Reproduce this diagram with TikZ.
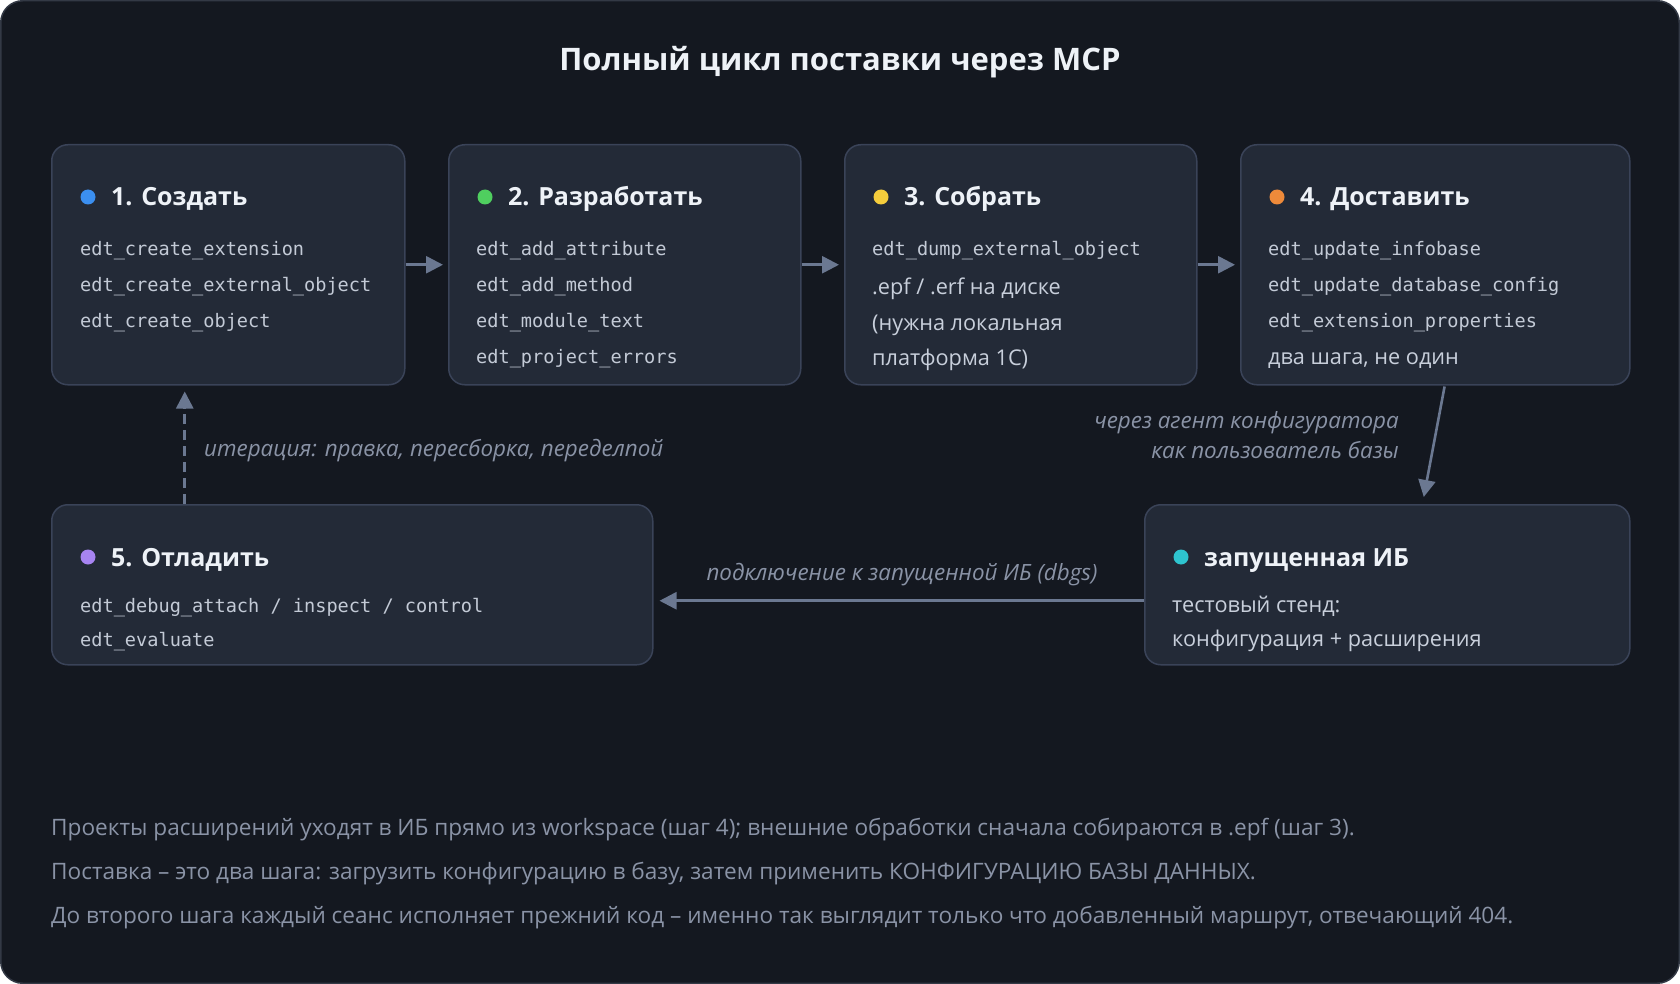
\documentclass[tikz,border=0pt]{standalone}
\usepackage{fontspec}
\setmainfont{Open Sans}
\newfontfamily\codefnt{DejaVu Sans Mono}
\usetikzlibrary{arrows.meta,calc}
\definecolor{bgc}{HTML}{141820}
\definecolor{outerline}{HTML}{333945}
\definecolor{boxfill}{HTML}{232A37}
\definecolor{boxline}{HTML}{3A4358}
\definecolor{titlec}{HTML}{EEF2F7}
\definecolor{codec}{HTML}{C3CAD6}
\definecolor{bodyc}{HTML}{C8CFDB}
\definecolor{grayc}{HTML}{8A93A6}
\definecolor{arrowc}{HTML}{6B7891}
\definecolor{dblue}{HTML}{3B8FF0}
\definecolor{dgreen}{HTML}{4FCF5F}
\definecolor{dyellow}{HTML}{F5CD3C}
\definecolor{dorange}{HTML}{EE8A3A}
\definecolor{dpurple}{HTML}{A784F2}
\definecolor{dcyan}{HTML}{2EC4CF}
\tikzset{
  stepbox/.style={draw=boxline, fill=boxfill, rounded corners=16pt, line width=1.5pt, inner sep=0pt, anchor=north west},
  headtxt/.style={anchor=base west, inner sep=0pt, text=titlec, font=\fontsize{25}{30}\selectfont\bfseries},
  codetxt/.style={anchor=base west, inner sep=0pt, text=codec, font=\codefnt\fontsize{18.6}{22}\selectfont},
  bodytxt/.style={anchor=base west, inner sep=0pt, text=bodyc, font=\fontsize{21.7}{26}\selectfont},
  labtxt/.style={inner sep=0pt, text=grayc, font=\fontsize{22.4}{26}\selectfont\itshape},
  foottxt/.style={anchor=base west, inner sep=0pt, text=grayc, font=\fontsize{22.6}{26}\selectfont},
  dotmark/.style={circle, inner sep=0pt, minimum size=15pt},
  flow/.style={draw=arrowc, line width=2.6pt, -{Triangle[length=17pt,width=17pt]}},
  flowd/.style={flow, dash pattern=on 10pt off 6pt},
}
\begin{document}
\begin{tikzpicture}[x=1pt,y=-1pt]
\fill[white] (0,0) rectangle (1680,984);
\useasboundingbox (0,0) rectangle (1680,984);
\draw[fill=bgc, draw=outerline, line width=1.5pt, rounded corners=22pt] (0.75,0.75) rectangle (1679.25,983.25);

\node[anchor=base, inner sep=0pt, text=titlec, font=\fontsize{31}{36}\selectfont\bfseries] (title) at (840,71) {Полный цикл поставки через MCP};

% boxes
\node[stepbox, minimum width=353pt, minimum height=240pt] (b1) at (51,144) {};
\node[stepbox, minimum width=352pt, minimum height=240pt] (b2) at (448,144) {};
\node[stepbox, minimum width=352pt, minimum height=240pt] (b3) at (844,144) {};
\node[stepbox, minimum width=389pt, minimum height=240pt] (b4) at (1240,144) {};
\node[stepbox, minimum width=601pt, minimum height=160pt] (b5) at (51,504) {};
\node[stepbox, minimum width=485pt, minimum height=160pt] (ib) at (1144,504) {};

% box 1
\node[dotmark, fill=dblue] (d1) at (88,197) {};
\node[headtxt] (h1) at (111,206) {1. Создать};
\node[codetxt] (c11) at (80,255) {edt\_create\_extension};
\node[codetxt] (c12) at (80,291) {edt\_create\_external\_object};
\node[codetxt] (c13) at (80,327) {edt\_create\_object};

% box 2
\node[dotmark, fill=dgreen] (d2) at (485,197) {};
\node[headtxt] (h2) at (508,206) {2. Разработать};
\node[codetxt] (c21) at (476,255) {edt\_add\_attribute};
\node[codetxt] (c22) at (476,291) {edt\_add\_method};
\node[codetxt] (c23) at (476,327) {edt\_module\_text};
\node[codetxt] (c24) at (476,363) {edt\_project\_errors};

% box 3
\node[dotmark, fill=dyellow] (d3) at (881,197) {};
\node[headtxt] (h3) at (904,206) {3. Собрать};
\node[codetxt] (c31) at (872,255) {edt\_dump\_external\_object};
\node[bodytxt] (t31) at (872,294) {.epf / .erf на диске};
\node[bodytxt] (t32) at (872,330) {(нужна локальная};
\node[bodytxt] (t33) at (872,365) {платформа 1С)};

% box 4
\node[dotmark, fill=dorange] (d4) at (1277,197) {};
\node[headtxt] (h4) at (1300,206) {4. Доставить};
\node[codetxt] (c41) at (1268,255) {edt\_update\_infobase};
\node[codetxt] (c42) at (1268,291) {edt\_update\_database\_config};
\node[codetxt] (c43) at (1268,327) {edt\_extension\_properties};
\node[bodytxt] (t41) at (1268,364) {два шага, не один};

% box 5
\node[dotmark, fill=dpurple] (d5) at (88,557) {};
\node[headtxt] (h5) at (111,566) {5. Отладить};
\node[codetxt] (c51) at (80,612) {edt\_debug\_attach / inspect / control};
\node[codetxt] (c52) at (80,646) {edt\_evaluate};

% infobase box
\node[dotmark, fill=dcyan] (d6) at (1181,557) {};
\node[headtxt] (h6) at (1204,566) {запущенная ИБ};
\node[bodytxt] (t61) at (1172,612) {тестовый стенд:};
\node[bodytxt] (t62) at (1172,646) {конфигурация + расширения};

% connectors
\draw[flow, shorten >=5pt] (b1.east) -- (b2.west);
\draw[flow, shorten >=5pt] (b2.east) -- (b3.west);
\draw[flow, shorten >=5pt] (b3.east) -- (b4.west);
\draw[flow, shorten <=1pt] ([xshift=9.5pt]b4.south) -- ([xshift=36.5pt,yshift=7pt]ib.north);
\draw[flow, shorten >=6pt] ([yshift=-16pt]ib.west) -- ([yshift=-16pt]ib.west -| b5.east);
\draw[flowd, shorten >=6pt] ([xshift=-43.5pt]b1.south |- b5.north) -- ([xshift=-43.5pt]b1.south);

% connector labels
\node[labtxt, anchor=base east] (l1) at (1399,428) {через агент конфигуратора};
\node[labtxt, anchor=base east] (l2) at (1399,458) {как пользователь базы};
\node[labtxt, anchor=base] (l3) at (902,580) {подключение к запущенной ИБ (dbgs)};
\node[labtxt, anchor=base west] (l4) at (204,456) {итерация: правка, пересборка, переделпой};

% footer
\node[foottxt] (f1) at (51,835) {Проекты расширений уходят в ИБ прямо из workspace (шаг 4); внешние обработки сначала собираются в .epf (шаг 3).};
\node[foottxt] (f2) at (51,879) {Поставка – это два шага: загрузить конфигурацию в базу, затем применить КОНФИГУРАЦИЮ БАЗЫ ДАННЫХ.};
\node[foottxt] (f3) at (51,923) {До второго шага каждый сеанс исполняет прежний код – именно так выглядит только что добавленный маршрут, отвечающий 404.};
\end{tikzpicture}
\end{document}
